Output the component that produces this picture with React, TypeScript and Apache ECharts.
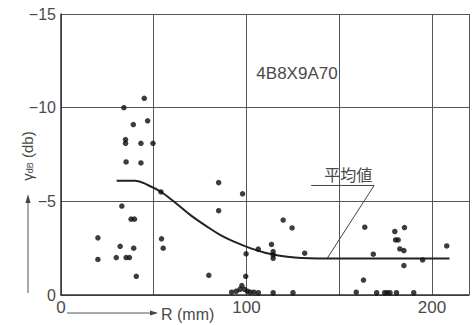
import React, { useEffect, useRef } from "react";
import * as echarts from "echarts";

// Measured scatter of γdB against R (mm)
const dotR = [
  44.9, 33.9, 39.0, 46.7, 34.8, 34.8, 43.1, 49.6, 35.1, 43.1,
  32.8, 37.8, 39.6, 19.9, 31.9, 39.2, 19.9, 29.8, 35.1, 36.9,
  40.6, 54.2, 55.1, 53.9,
  85.0, 97.9, 85.0, 99.8, 79.7, 99.6,
  92.0, 94.5, 96.5, 97.5, 99.0, 100.5, 102.0, 104.0,
  106.4, 113.5, 114.4, 114.4, 114.4, 119.8, 124.6, 131.4, 106.4, 114.4, 125.1,
  163.8, 163.1, 159.2, 180.0, 185.2, 180.4, 181.8, 182.7, 184.9, 168.4,
  195.0, 184.9, 208.0, 170.2, 174.5, 175.9, 177.4, 180.9, 190.2,
];
const dotDb = [
  -10.5, -10.0, -9.1, -9.3, -8.3, -8.1, -8.1, -8.1, -7.1, -7.05,
  -4.75, -4.05, -4.05, -3.05, -2.6, -2.5, -1.9, -2.0, -2.0, -2.0,
  -1.0, -3.0, -2.5, -5.5,
  -6.0, -5.4, -4.5, -2.2, -1.05, -1.0,
  -0.15, -0.2, -0.3, -0.5, -0.3, -0.2, -0.15, -0.15,
  -2.45, -2.7, -2.32, -2.14, -1.96, -4.0, -3.58, -2.23, -0.12, -0.12, -0.12,
  -3.62, -0.8, -0.15, -3.39, -3.6, -2.94, -2.94, -2.46, -2.37, -2.18,
  -1.87, -1.57, -2.62, -0.12, -0.12, -0.12, -0.12, -0.12, -0.12,
];

// Mean curve (平均値)
const meanR = [30, 40, 47, 54, 62, 70, 78, 86, 94, 102, 110, 118, 126, 134, 145, 209.5];
const meanDb = [-6.1, -6.1, -5.86, -5.5, -4.9, -4.25, -3.7, -3.2, -2.82, -2.5, -2.26, -2.1, -2.0, -1.96, -1.95, -1.95];

const xLabelTicks = [0, 100, 200];
const meanLabelAt = [143.5, -1.95];

const FONT = "'Liberation Sans Narrow', 'Liberation Sans', 'Noto Sans', sans-serif";
const CJK = "'Noto Sans CJK JP', sans-serif";
const INK = "#222";
const TEXT = "#4a4a4a";
const GRID = "#555";

export default function App() {
  const ref = useRef<HTMLDivElement>(null);

  useEffect(() => {
    if (!ref.current) return;
    const chart = echarts.init(ref.current, null, { renderer: "svg" });

    const dots = dotR.map((r, i) => [r, dotDb[i]]);
    const mean = meanR.map((r, i) => [r, meanDb[i]]);

    chart.setOption({
      animation: false,
      backgroundColor: "#fff",
      grid: { left: 61, top: 14, bottom: 30, right: 0 },
      xAxis: {
        type: "value",
        min: 0,
        max: 220,
        interval: 50,
        position: "bottom",
        axisLine: { show: true, onZero: false, lineStyle: { color: "#333", width: 1.5 } },
        axisTick: { show: false },
        splitLine: { show: true, lineStyle: { color: GRID, width: 1 } },
        axisLabel: {
          formatter: (v: number) => (xLabelTicks.includes(v) ? String(v) : ""),
          fontSize: 17,
          color: TEXT,
          margin: 4,
          fontFamily: FONT,
        },
      },
      yAxis: {
        type: "value",
        inverse: true,
        min: -15,
        max: 0,
        interval: 5,
        axisLine: { show: true, lineStyle: { color: "#333", width: 1.5 } },
        axisTick: { show: false },
        splitLine: { show: true, lineStyle: { color: GRID, width: 1.2 } },
        axisLabel: {
          formatter: (v: number) => (v < 0 ? "\u2212" + Math.abs(v) : String(v)),
          fontSize: 16,
          color: TEXT,
          margin: 5,
          fontFamily: FONT,
        },
      },
      series: [
        {
          type: "scatter",
          data: dots,
          symbolSize: 5.5,
          itemStyle: { color: "#0d0d0d" },
          z: 3,
        },
        {
          type: "line",
          data: mean,
          smooth: 0.4,
          showSymbol: false,
          lineStyle: { color: INK, width: 2 },
          z: 2,
        },
      ],
    });

    const [ax, ay] = chart.convertToPixel({ gridIndex: 0 }, meanLabelAt) as number[];
    const lx = ax + 47;
    const ly = ay - 73;

    chart.setOption({
      graphic: [
        // Label for the mean curve with its leader line
        {
          type: "text",
          x: lx - 26,
          y: ly - 11,
          style: { text: "平均値", fontSize: 16, fill: TEXT, fontFamily: CJK, textAlign: "center", textVerticalAlign: "middle" },
        },
        { type: "line", shape: { x1: lx - 63, y1: ly, x2: lx, y2: ly }, style: { stroke: "#444", lineWidth: 1 } },
        { type: "line", shape: { x1: lx, y1: ly, x2: ax, y2: ay }, style: { stroke: "#444", lineWidth: 1 } },
        // Model designation
        {
          type: "text",
          x: 297,
          y: 73,
          style: { text: "4B8X9A70", fontSize: 17, fill: TEXT, fontFamily: FONT, textAlign: "center", textVerticalAlign: "middle" },
        },
        // Horizontal axis name with arrow
        { type: "line", shape: { x1: 67, y1: 313, x2: 156, y2: 313 }, style: { stroke: "#555", lineWidth: 1 } },
        { type: "polygon", shape: { points: [[158, 313], [150, 310.5], [150, 315.5]] }, style: { fill: "#444" } },
        {
          type: "text",
          x: 161,
          y: 314,
          style: { text: "R (mm)", fontSize: 16, fill: TEXT, fontFamily: FONT, textAlign: "left", textVerticalAlign: "middle" },
        },
        // Vertical axis name with arrow
        { type: "line", shape: { x1: 28, y1: 293, x2: 28, y2: 198 }, style: { stroke: "#555", lineWidth: 1 } },
        { type: "polygon", shape: { points: [[28, 194], [25.5, 203], [30.5, 203]] }, style: { fill: "#444" } },
        {
          type: "text",
          x: 27,
          y: 156,
          rotation: Math.PI / 2,
          style: {
            text: "{g|γ}{s|dB} (db)",
            fontSize: 15,
            fill: TEXT,
            fontFamily: FONT,
            textAlign: "center",
            textVerticalAlign: "middle",
            rich: {
              g: { fontSize: 15, fill: TEXT, fontFamily: FONT },
              s: { fontSize: 9, fill: TEXT, fontFamily: FONT, verticalAlign: "bottom", padding: [6, 0, 0, 0] },
            },
          },
        },
      ],
    });

    return () => chart.dispose();
  }, []);

  return (
    <div
      ref={ref}
      style={{ position: "fixed", left: 0, top: 0, width: 472, height: 325, background: "#fff" }}
    />
  );
}
